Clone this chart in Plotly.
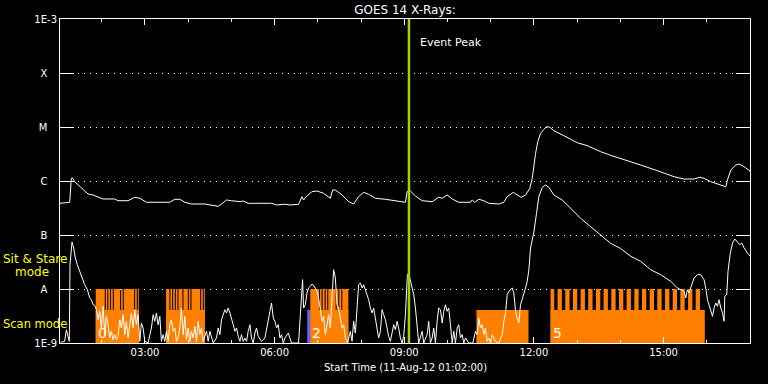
import plotly.graph_objects as go
import pandas as pd

# ---------------- data ----------------
START = pd.Timestamp("2012-08-11 01:02:00")
END = pd.Timestamp("2012-08-11 17:00:00")
EVENT_PEAK_MIN = 484.5  # minutes after start

# GOES 14 long channel (1-8 A): minutes after start, log10 flux (W/m^2)
long_minutes = [0, 13.5, 15.7, 17.1, 20.4, 25.0, 32.0, 38.9, 45.9, 52.8, 59.8, 66.7, 76.0, 80.6, 94.5,
                103.8, 110.8, 120.0, 136.2, 152.5, 159.4, 166.4, 173.3, 182.5, 201.1, 208.1, 219.6,
                224.2, 231.2, 238.1, 249.8, 254.4, 261.3, 275.2, 293.7, 300.7, 312.3, 319.7, 331.2,
                335.9, 338.2, 342.9, 349.9, 356.8, 366.0, 375.3, 378.5, 382.3, 391.6, 400.7, 407.7,
                414.6, 421.6, 428.5, 437.9, 451.8, 465.7, 479.6, 481.9, 486.5, 493.5, 502.8, 516.7,
                525.8, 530.6, 537.5, 544.5, 553.6, 569.9, 572.3, 575.9, 581.4, 588.4, 595.3, 609.2,
                616.2, 620.9, 629.3, 634.8, 640.4, 646.4, 652.3, 655.7, 657.9, 660.3, 663.4, 667.2,
                671.8, 675.5, 680.1, 685.7, 699.6, 718.2, 732.1, 750.6, 764.5, 783.0, 806.2, 829.4,
                852.5, 866.4, 880.3, 888.6, 894.2, 903.5, 917.4, 924.4, 926.7, 931.3, 938.3, 942.8,
                949.8, 956.7, 959.1]
long_log_flux = [-6.413, -6.394, -5.950, -5.939, -6.013, -6.074, -6.167, -6.241, -6.259, -6.302, -6.333,
                 -6.333, -6.333, -6.365, -6.365, -6.302, -6.320, -6.394, -6.394, -6.394, -6.339, -6.339,
                 -6.394, -6.426, -6.426, -6.444, -6.469, -6.426, -6.352, -6.365, -6.383, -6.370, -6.413,
                 -6.413, -6.413, -6.444, -6.431, -6.444, -6.431, -6.291, -6.352, -6.272, -6.198, -6.185,
                 -6.228, -6.320, -6.167, -6.167, -6.259, -6.383, -6.426, -6.291, -6.209, -6.246, -6.320,
                 -6.339, -6.365, -6.394, -6.198, -6.185, -6.278, -6.365, -6.383, -6.302, -6.320, -6.259,
                 -6.333, -6.394, -6.394, -6.352, -6.394, -6.339, -6.365, -6.413, -6.426, -6.394, -6.291,
                 -6.209, -6.259, -6.302, -6.259, -6.135, -5.950, -5.672, -5.487, -5.272, -5.117, -5.043,
                 -4.994, -5.006, -5.069, -5.161, -5.291, -5.346, -5.457, -5.524, -5.598, -5.704, -5.809,
                 -5.920, -5.963, -5.963, -5.931, -5.950, -6.013, -6.074, -6.106, -5.981, -5.796, -5.704,
                 -5.685, -5.735, -5.796, -5.828]

# GOES 14 short channel (0.5-4 A): minutes after start, log10 flux (W/m^2)
short_minutes = [1, 6.5, 8.8, 11.1, 12.9, 13.9, 15.7, 16.7, 19.0, 21.3, 24.0, 27.4, 30.6, 34.3, 38.0,
                 41.3, 43.5, 45.9, 48.2, 50.5, 52.8, 55.2, 57.4, 59.8, 62.1, 64.4, 66.7, 69.1, 71.3,
                 73.7, 76.0, 78.3, 80.6, 83.0, 85.2, 87.6, 89.9, 92.2, 94.5, 96.9, 99.1, 101.5, 103.8,
                 106.1, 108.4, 110.8, 113.0, 115.4, 117.7, 122.3, 126.9, 129.3, 131.6, 133.9, 136.2,
                 138.6, 140.8, 143.2, 145.5, 147.8, 150.1, 152.5, 154.7, 157.1, 159.4, 161.7, 164.0,
                 166.4, 168.6, 171.0, 173.3, 175.6, 177.9, 180.3, 182.5, 184.9, 187.2, 189.5, 191.8,
                 194.2, 196.4, 198.8, 203.4, 205.7, 208.1, 212.7, 217.3, 219.6, 222.0, 224.2, 226.6,
                 228.9, 231.2, 233.5, 235.9, 238.1, 240.5, 242.8, 245.1, 247.4, 249.8, 252.0, 254.4,
                 256.7, 259.0, 261.3, 263.7, 265.9, 268.3, 270.6, 272.9, 275.2, 279.8, 284.5, 286.8,
                 289.1, 291.5, 293.7, 296.1, 298.4, 300.7, 303.0, 305.4, 307.6, 310.0, 312.3, 316.9,
                 321.5,
                 324.3, 331.2, 333.6, 335.9, 336.8, 338.2, 340.6, 342.9, 345.1, 347.5, 349.9, 352.1,
                 354.5, 356.8, 359.0, 361.4, 363.8, 366.0, 368.4, 370.7, 372.9, 375.3, 377.7, 379.9,
                 382.3, 384.6, 386.8, 389.2, 391.6, 393.8, 396.2, 399.3, 403.1, 405.5, 407.7, 410.1,
                 412.4, 414.6, 417.0, 419.4, 421.6, 424.0, 426.3, 428.5, 430.9, 433.3, 435.5, 437.9,
                 440.2, 442.4, 444.8, 447.2, 449.4, 451.8, 454.1, 456.3, 458.7, 461.1, 463.3, 465.7,
                 468.0, 470.2, 472.6, 475.0, 477.2, 479.6, 480.9, 482.3, 484.1, 486.5, 488.9, 491.1,
                 493.5, 495.8, 498.0, 502.8, 505.0, 509.7, 511.9, 514.3, 516.7, 518.9, 521.3, 523.6,
                 525.8, 528.2, 530.6, 532.8, 535.2, 537.5, 539.7, 542.1, 544.5, 546.7, 549.1, 551.4,
                 553.6, 556.0, 558.4, 560.6, 563.0, 567.5, 573.1, 576.9, 579.2, 581.4, 583.8, 586.2,
                 588.4, 590.8, 593.1, 595.3, 597.7, 600.1, 604.7, 609.2, 614.0, 616.2, 618.6, 620.9,
                 623.1, 625.5, 627.9, 630.1, 632.5, 634.8, 637.0, 639.4, 642.6,
                 646.4, 648.7, 651.0, 653.3, 655.7, 657.9, 661.6, 664.8, 669.6, 674.2, 678.7, 685.7,
                 697.4, 708.9, 722.8, 736.7, 750.6, 764.5, 778.4, 792.3, 806.2, 820.1, 834.0, 847.9,
                 857.2, 866.4, 868.8, 871.1, 873.3, 875.7, 880.3, 885.0, 889.6, 894.2, 896.6, 898.9,
                 901.1, 903.5, 905.9, 908.1, 910.5, 912.8, 915.0, 917.4, 919.8, 922.0, 923.0, 925.7,
                 927.5, 930.3, 933.7, 936.9, 940.6, 943.8, 946.6, 949.8, 954.5, 958.1]
short_log_flux = [-8.987, -8.969, -8.754, -8.876, -8.969, -7.537, -7.148, -7.130, -7.241, -7.426, -7.550,
                  -7.672, -7.796, -7.920, -8.013, -8.167, -8.198, -8.291, -8.302, -8.383, -8.569, -8.413,
                  -8.722, -8.320, -8.846, -8.506, -8.661, -8.907, -8.783, -8.939, -8.846, -8.939, -8.876,
                  -8.569, -8.722, -8.476, -8.846, -8.598, -8.907, -8.661, -8.444, -8.722, -8.383, -8.661,
                  -8.476, -8.969, -8.630, -8.722, -8.969, -9.0, -8.722, -8.476, -8.598, -8.444, -8.661,
                  -8.506, -8.969, -8.846, -8.969, -8.783, -8.969, -8.661, -8.569, -8.783, -8.722, -8.969,
                  -8.907, -8.722, -8.352, -8.846, -8.506, -8.939, -8.722, -8.969, -8.783, -8.907, -8.691,
                  -8.969, -8.598, -8.846, -8.722, -8.969, -8.783, -8.969, -8.783, -9.0, -8.907, -8.722,
                  -8.846, -8.569, -8.476, -8.383, -8.444, -8.352, -8.444, -8.537, -8.661, -8.783, -8.722,
                  -8.876, -8.969, -8.846, -8.969, -8.907, -8.969, -8.783, -8.661, -8.907, -9.0, -8.815,
                  -8.722, -8.876, -8.969, -8.907, -8.722, -8.598, -8.413, -8.259, -8.537, -8.598, -8.722,
                  -8.661, -8.907, -8.846, -9.0, -8.907, -8.815, -9.0,
                  -9.0, -9.0, -8.506, -7.858, -7.827, -8.352, -8.291, -8.074, -7.981, -7.950, -7.907,
                  -7.932, -7.981, -8.043, -8.167, -8.413, -8.598, -8.506, -8.846, -8.661, -8.476, -8.722,
                  -8.106, -7.643, -7.796, -8.291, -8.352, -8.537, -8.722, -8.661, -8.907, -9.0, -8.783,
                  -8.969, -8.598, -8.815, -8.228, -7.920, -7.889, -7.981, -7.920, -8.013, -8.106, -8.198,
                  -8.352, -8.444, -8.352, -8.537, -8.661, -8.907, -8.783, -8.383, -8.476, -8.569, -8.722,
                  -8.876, -8.969, -8.783, -8.661, -8.754, -8.598, -8.722, -8.907, -9.0, -8.876, -8.476,
                  -8.106, -7.735, -7.704, -7.828, -7.950, -8.106, -8.352, -8.661, -9.0, -8.783, -9.0,
                  -8.846, -8.598, -9.0, -8.907, -8.722, -9.0, -8.598, -8.352, -8.383, -8.630, -8.413,
                  -8.291, -8.413, -8.352, -8.661, -9.0, -8.783, -9.0, -8.722, -8.661, -8.907, -8.846,
                  -9.0, -8.907, -9.0, -9.0, -8.783, -8.846, -8.537, -8.722, -8.661, -8.846, -8.722,
                  -8.969, -8.907, -9.0, -8.846, -8.969, -9.0, -8.846, -8.598, -8.444, -8.106, -8.043,
                  -8.013, -7.981, -8.074, -8.413, -8.537, -8.630, -8.291, -8.167,
                  -7.981, -7.858, -7.643, -7.241, -7.100, -6.950, -6.598, -6.291, -6.117, -6.074, -6.117,
                  -6.259, -6.352, -6.506, -6.691, -6.846, -7.000, -7.154, -7.250, -7.394, -7.487, -7.643,
                  -7.735, -7.857, -7.981, -8.043, -8.167, -8.013, -8.074, -7.981, -7.796, -7.735, -7.735,
                  -7.828, -7.981, -8.198, -8.291, -8.383, -8.506, -8.352, -8.259, -8.320, -8.198, -8.352,
                  -8.444, -8.598, -8.135, -8.106, -7.672, -7.365, -7.148, -7.074, -7.130, -7.180, -7.148,
                  -7.241, -7.333, -7.394]

# Y axis (GOES class) ticks
y_tick_values = [1e-9, 1e-8, 1e-7, 1e-6, 1e-5, 1e-4, 1e-3]
y_tick_labels = ["1E-9", "A", "B", "C", "M", "X", "1E-3"]

# Observation timeline (minutes after start)
SCAN_LEVEL = 4.1e-9    # height of "scan mode" band
STARE_LEVEL = 1e-8     # height of "sit & stare" band
scan_start = [49.6, 147.3, 347.5, 578.2, 681.1]
scan_end = [109.4, 201.1, 400.3, 650.5, 895.2]
stare_start = [49.6, 63.5, 67.1, 70.9, 74.7, 84.8, 88.5, 104.3, 108.0,
               147.3, 153.3, 157.1, 160.8, 164.5, 171.4, 178.9, 182.5, 196.0, 199.7,
               347.5, 361.0, 364.6, 368.8, 372.5, 384.1, 387.8, 392.0,
               681.1, 690.8, 701.5, 712.1, 722.8, 733.4, 744.1, 754.7, 765.4, 776.1, 786.7,
               797.4, 808.0, 818.7, 829.3, 840.0, 850.7, 861.3, 872.0, 882.6]
stare_end = [62.1, 65.7, 69.5, 73.3, 83.4, 87.1, 102.9, 106.6, 109.4,
             151.9, 155.7, 159.4, 163.1, 170.0, 177.5, 181.1, 194.6, 198.3, 201.1,
             359.6, 363.2, 367.4, 371.1, 382.7, 386.4, 390.6, 400.3,
             686.2, 696.8, 707.5, 718.1, 728.8, 739.4, 750.1, 760.7, 771.4, 782.1, 792.7,
             803.4, 814.0, 824.7, 835.3, 846.0, 856.7, 867.3, 878.0, 888.6]
other_start = [343.3]
other_end = [347.5]
obs_label_minutes = [49.6, 347.5, 681.1]
obs_labels = ["0", "2", "5"]

# ---------------- helpers ----------------
def tstamp(m):
    return (START + pd.Timedelta(minutes=m)).strftime("%Y-%m-%d %H:%M:%S")


def rect_trace(starts, ends, lo, hi, color):
    xs, ys = [], []
    for s, e in zip(starts, ends):
        a, b = tstamp(s), tstamp(e)
        xs += [a, b, b, a, a, None]
        ys += [lo, lo, hi, hi, lo, None]
    return go.Scatter(x=xs, y=ys, mode="lines", fill="toself", fillcolor=color,
                      line=dict(width=0, color=color), hoverinfo="skip", showlegend=False)


def pad_label(s):
    # single-letter class labels sit centred in the width of the "1E-n" labels
    return s if len(s) > 1 else s + "\u00a0" * 3


ORANGE = "#ff8000"
BLUE = "#6464ff"
GREEN = "#a2d20a"
YELLOW = "#ffff00"
FONT = "DejaVu Sans"

fig = go.Figure()
fig.add_trace(rect_trace(scan_start, scan_end, 1e-9, SCAN_LEVEL, ORANGE))
fig.add_trace(rect_trace(stare_start, stare_end, 1e-9, STARE_LEVEL, ORANGE))
fig.add_trace(rect_trace(other_start, other_end, 1e-9, SCAN_LEVEL, BLUE))

fig.add_trace(go.Scatter(x=[tstamp(m) for m in long_minutes], y=[10 ** v for v in long_log_flux],
                         mode="lines", line=dict(color="white", width=1), showlegend=False))
fig.add_trace(go.Scatter(x=[tstamp(m) for m in short_minutes], y=[10 ** v for v in short_log_flux],
                         mode="lines", line=dict(color="white", width=1), showlegend=False))

fig.add_trace(go.Scatter(x=[tstamp(EVENT_PEAK_MIN)] * 2, y=[1e-9, 1e-3], mode="lines",
                         line=dict(color=GREEN, width=2.5), showlegend=False))

annotations = []
for m, lab in zip(obs_label_minutes, obs_labels):
    annotations.append(dict(x=tstamp(m), y=0.031, xref="x", yref="paper", text=lab,
                            showarrow=False, xanchor="left", yanchor="middle", xshift=0,
                            font=dict(family=FONT, size=14, color="white")))
annotations += [
    dict(x=tstamp(EVENT_PEAK_MIN), y=0.926, xref="x", yref="paper", text="Event Peak",
         showarrow=False, xanchor="left", yanchor="middle", xshift=9,
         font=dict(family=FONT, size=11, color="white")),
    dict(x=0.5, y=-0.076, xref="paper", yref="paper", text="Start Time (11-Aug-12 01:02:00)",
         showarrow=False, xanchor="center", yanchor="middle",
         font=dict(family=FONT, size=10, color="white")),
    dict(x=-0.086, y=0.259, xref="paper", yref="paper", text="Sit & Stare",
         showarrow=False, xanchor="left", yanchor="middle",
         font=dict(family=FONT, size=12, color=YELLOW)),
    dict(x=-0.068, y=0.220, xref="paper", yref="paper", text="mode",
         showarrow=False, xanchor="left", yanchor="middle",
         font=dict(family=FONT, size=12, color=YELLOW)),
    dict(x=-0.086, y=0.058, xref="paper", yref="paper", text="Scan mode",
         showarrow=False, xanchor="left", yanchor="middle",
         font=dict(family=FONT, size=11.5, color=YELLOW)),
]

fig.update_layout(
    width=768, height=384,
    margin=dict(l=60, r=18, t=19, b=41),
    paper_bgcolor="black", plot_bgcolor="black",
    showlegend=False,
    font=dict(family=FONT, color="white", size=10),
    title=dict(text="GOES 14 X-Rays:", x=0.5, xref="paper", y=1 - 10 / 384, yref="container",
               xanchor="center", yanchor="middle", font=dict(family=FONT, size=12, color="white")),
    annotations=annotations,
)
fig.update_xaxes(
    type="date", range=[START.strftime("%Y-%m-%d %H:%M:%S"), END.strftime("%Y-%m-%d %H:%M:%S")],
    showline=True, linecolor="white", linewidth=1, mirror="allticks",
    ticks="inside", ticklen=6, tickwidth=1, tickcolor="white",
    tick0="2012-08-11 00:00:00", dtick=3 * 3600 * 1000, tickformat="%H:%M",
    tickfont=dict(family=FONT, size=10, color="white"),
    showgrid=False, zeroline=False,
    minor=dict(ticks="inside", ticklen=3, tickcolor="white", tickwidth=1,
               dtick=3600 * 1000, tick0="2012-08-11 00:00:00", showgrid=False),
)
fig.update_yaxes(
    type="log", range=[-9, -3],
    tickvals=y_tick_values, ticktext=[pad_label(s) for s in y_tick_labels],
    showline=True, linecolor="white", linewidth=1, mirror="allticks",
    ticks="inside", ticklen=14, tickwidth=1, tickcolor="white",
    tickfont=dict(family=FONT, size=10, color="white"),
    showgrid=True, gridcolor="white", gridwidth=1, griddash="1px,5px",
    zeroline=False,
)

fig.write_html("out.html",
               config={"displayModeBar": False, "staticPlot": True},
               post_script="document.body.style.margin='0';document.body.style.background='black';")
